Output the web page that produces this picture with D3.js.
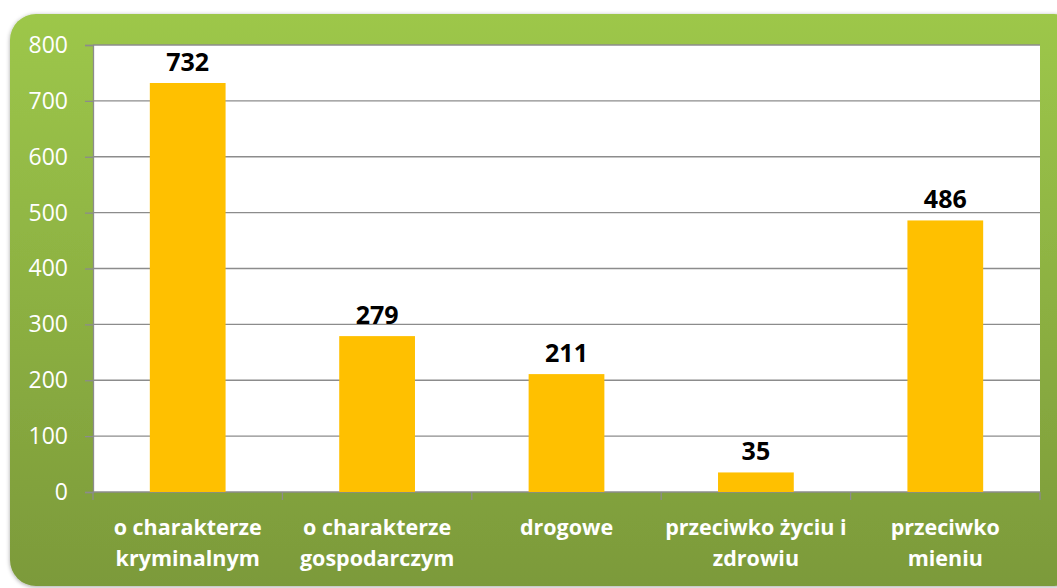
<!DOCTYPE html>
<html lang="pl">
<head>
  <meta charset="UTF-8" />
  <title>Przestępstwa</title>
  <style>
    body { margin: 0; background: #fff; }
    svg { display: block; }
    text { font-family: "Open Sans", "Noto Sans", sans-serif; }
  </style>
</head>
<body>
  <div id="chart"></div>

  <script src="https://d3js.org/d3.v7.min.js"></script>
  <script>
    const categories = [
      ["o charakterze", "kryminalnym"],
      ["o charakterze", "gospodarczym"],
      ["drogowe"],
      ["przeciwko życiu i", "zdrowiu"],
      ["przeciwko", "mieniu"]
    ];
    const values = [732, 279, 211, 35, 486];
    const yTicks = [0, 100, 200, 300, 400, 500, 600, 700, 800];

    const W = 1057, H = 588;
    const plot = {left: 93, right: 1040, top: 45, bottom: 492};

    const svg = d3.select("#chart").append("svg")
      .attr("width", W).attr("height", H);

    const defs = svg.append("defs");
    const grad = defs.append("linearGradient")
      .attr("id", "bg").attr("x1", 0).attr("y1", 0).attr("x2", 0).attr("y2", 1);
    grad.append("stop").attr("offset", "0%").attr("stop-color", "#9dc74a");
    grad.append("stop").attr("offset", "100%").attr("stop-color", "#7c9a3a");

    const shadow = defs.append("filter").attr("id", "sh")
      .attr("x", "-5%").attr("y", "-5%").attr("width", "110%").attr("height", "110%");
    shadow.append("feDropShadow").attr("dx", 0).attr("dy", 1)
      .attr("stdDeviation", 2).attr("flood-opacity", 0.35);

    svg.append("rect")
      .attr("x", 10).attr("y", 14)
      .attr("width", 1070).attr("height", 572)
      .attr("rx", 26)
      .attr("fill", "url(#bg)")
      .attr("filter", "url(#sh)");

    // plot area
    svg.append("rect")
      .attr("x", plot.left).attr("y", plot.top)
      .attr("width", plot.right - plot.left).attr("height", plot.bottom - plot.top)
      .attr("fill", "#fff");

    const x = d3.scaleBand()
      .domain(d3.range(values.length))
      .range([plot.left, plot.right])
      .paddingInner(0.6).paddingOuter(0.3);

    const y = d3.scaleLinear()
      .domain([0, 800])
      .range([plot.bottom, plot.top]);

    // gridlines
    svg.append("g")
      .selectAll("line")
      .data(yTicks.filter(d => d > 0))
      .join("line")
        .attr("x1", plot.left).attr("x2", plot.right)
        .attr("y1", d => y(d)).attr("y2", d => y(d))
        .attr("stroke", "#8c8c8c").attr("stroke-width", 1.3);

    // y axis
    const yAxis = svg.append("g")
      .attr("transform", `translate(${plot.left},0)`)
      .call(d3.axisLeft(y).tickValues(yTicks).tickSize(8).tickPadding(17));
    yAxis.select(".domain").attr("stroke", "#8c8c8c").attr("stroke-width", 1.3);
    yAxis.selectAll(".tick line").attr("stroke", "#8c8c8c").attr("stroke-width", 1.3);
    yAxis.selectAll(".tick text")
      .attr("fill", "#fff")
      .style("font-size", "23px")
      .style("font-family", "'Open Sans', sans-serif");

    // x axis baseline + boundary ticks
    const step = (plot.right - plot.left) / values.length;
    svg.append("line")
      .attr("x1", plot.left).attr("x2", plot.right)
      .attr("y1", plot.bottom).attr("y2", plot.bottom)
      .attr("stroke", "#8c8c8c").attr("stroke-width", 1.3);
    svg.append("g")
      .selectAll("line")
      .data(d3.range(values.length + 1))
      .join("line")
        .attr("x1", i => plot.left + i * step).attr("x2", i => plot.left + i * step)
        .attr("y1", plot.bottom).attr("y2", plot.bottom + 8)
        .attr("stroke", "#8c8c8c").attr("stroke-width", 1.3);

    // bars
    svg.append("g")
      .selectAll("rect")
      .data(values)
      .join("rect")
        .attr("x", (d, i) => x(i))
        .attr("y", d => y(d))
        .attr("width", x.bandwidth())
        .attr("height", d => y(0) - y(d))
        .attr("fill", "#ffc000");

    // value labels
    svg.append("g")
      .selectAll("text")
      .data(values)
      .join("text")
        .attr("x", (d, i) => x(i) + x.bandwidth() / 2)
        .attr("y", d => y(d) - 12)
        .attr("text-anchor", "middle")
        .attr("font-weight", "bold")
        .attr("font-size", "25px")
        .attr("fill", "#000")
        .text(d => d);

    // category labels
    const cat = svg.append("g")
      .selectAll("text")
      .data(categories)
      .join("text")
        .attr("x", (d, i) => x(i) + x.bandwidth() / 2)
        .attr("y", 535)
        .attr("text-anchor", "middle")
        .attr("font-weight", "bold")
        .attr("font-size", "21.5px")
        .attr("fill", "#fff");
    cat.selectAll("tspan")
      .data(d => d)
      .join("tspan")
        .attr("x", function() { return d3.select(this.parentNode).attr("x"); })
        .attr("dy", (d, i) => i === 0 ? 0 : 31)
        .text(d => d);
  </script>
</body>
</html>
